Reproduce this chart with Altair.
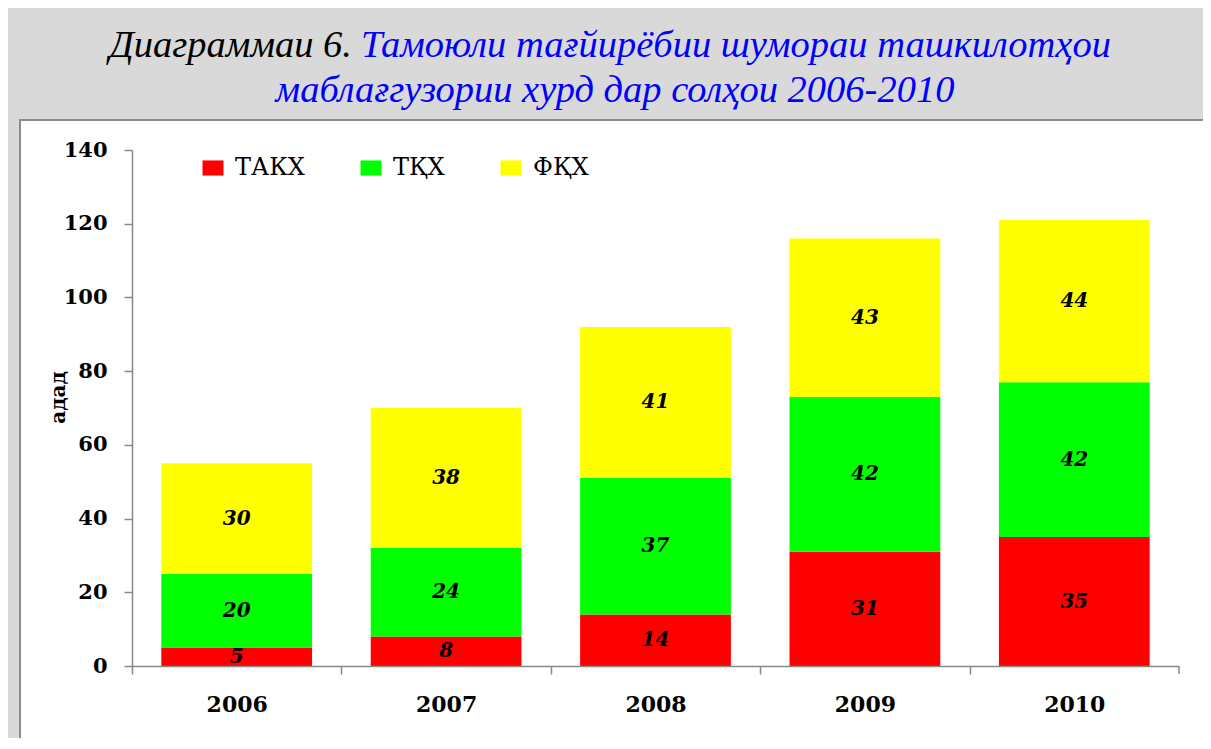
import altair as alt
import pandas as pd

years = ["2006", "2007", "2008", "2009", "2010"]
series = ["ТАКХ", "ТҚХ", "ФҚХ"]
takx = [5, 8, 14, 31, 35]
tqx = [20, 24, 37, 42, 42]
fqx = [30, 38, 41, 43, 44]
colors = ["#ff0000", "#00ff00", "#ffff00"]
y_ticks = [0, 20, 40, 60, 80, 100, 120, 140]
title_black = ["Диаграммаи 6."]
title_blue1 = ["Тамоюли тағйирёбии шумораи ташкилотҳои"]
title_blue2 = ["маблағгузории хурд дар солҳои 2006-2010"]
y_title = "адад"

rows = []
for i, y in enumerate(years):
    for j, (s, vals) in enumerate(zip(series, [takx, tqx, fqx])):
        rows.append({"year": y, "series": s, "value": vals[i], "ord": j})
df = pd.DataFrame(rows)

W, H = 1047, 516
SERIF = "DejaVu Serif"
AX = "#888888"
TFS = 38.5

base = alt.Chart(df).transform_stack(
    stack="value", groupby=["year"], as_=["y0", "y1"], sort=[{"field": "ord", "order": "ascending"}]
).transform_calculate(mid="(datum.y0 + datum.y1) / 2")

xenc = alt.X(
    "year:N",
    sort=years,
    title=None,
    scale=alt.Scale(paddingInner=0.28, paddingOuter=0.14),
    axis=alt.Axis(
        labelAngle=0,
        labelFont=SERIF,
        labelFontWeight="bold",
        labelFontSize=22,
        labelColor="black",
        labelPadding=20,
        tickSize=8,
        tickOffset=-W / 10,
        labelOffset=W / 10,
        tickColor=AX,
        tickWidth=1.5,
        domainColor=AX,
        domainWidth=1.5,
        grid=False,
        zindex=1,
    ),
)

bars = base.mark_bar().encode(
    x=xenc,
    y=alt.Y(
        "y0:Q",
        title=y_title,
        scale=alt.Scale(domain=[0, 140], nice=False),
        axis=alt.Axis(
            values=y_ticks,
            labelFont=SERIF,
            labelFontWeight="bold",
            labelFontSize=21,
            labelColor="black",
            labelPadding=17,
            tickSize=8,
            tickColor=AX,
            tickWidth=1.5,
            domainColor=AX,
            domainWidth=1.5,
            grid=False,
            zindex=1,
            titleFont=SERIF,
            titleFontWeight="bold",
            titleFontSize=20,
            titleColor="black",
            titleX=-68,
            titleY=247,
            titleBaseline="alphabetic",
            titleAlign="center",
        ),
    ),
    y2="y1:Q",
    color=alt.Color(
        "series:N",
        scale=alt.Scale(domain=series, range=colors),
        sort=series,
        title=None,
        legend=alt.Legend(
            orient="none",
            legendX=69,
            legendY=6,
            direction="horizontal",
            symbolType="M-1,-0.72H1V0.72H-1Z",
            symbolSize=441,
            symbolStrokeWidth=0,
            symbolOpacity=1,
            labelFont=SERIF,
            labelFontSize=24,
            labelColor="black",
            labelOffset=10,
            columnPadding=54,
            padding=0,
        ),
    ),
)

labels = base.mark_text(
    font=SERIF, fontSize=20, fontWeight="bold", fontStyle="italic", color="black", baseline="middle"
).encode(
    x=alt.X("year:N", sort=years),
    y=alt.Y("mid:Q"),
    text=alt.Text("value:Q"),
)

panel = alt.Chart(pd.DataFrame({"a": [0]})).mark_rect(
    fill="white", stroke="#8c8c8c", strokeWidth=2
).encode(
    x=alt.value(-112), x2=alt.value(1080), y=alt.value(-30), y2=alt.value(640)
)

t_black = alt.Chart(pd.DataFrame({"t": title_black})).mark_text(
    font="Liberation Serif", fontSize=TFS, fontStyle="italic", color="black", align="right", baseline="alphabetic"
).encode(text="t:N", x=alt.value(220), y=alt.value(-93))

t_blue1 = alt.Chart(pd.DataFrame({"t": title_blue1})).mark_text(
    font="Liberation Serif", fontSize=TFS, fontStyle="italic", color="#0000ff", align="left", baseline="alphabetic"
).encode(text="t:N", x=alt.value(229), y=alt.value(-93))

t_blue2 = alt.Chart(pd.DataFrame({"t": title_blue2})).mark_text(
    font="Liberation Serif", fontSize=TFS, fontStyle="italic", color="#0000ff", align="center", baseline="alphabetic"
).encode(text="t:N", x=alt.value(483), y=alt.value(-48))

end_tick = alt.Chart(pd.DataFrame({"a": [0]})).mark_rule(color=AX, strokeWidth=1.5).encode(
    x=alt.value(W), y=alt.value(H), y2=alt.value(H + 8)
)

chart = alt.layer(panel, bars, labels, end_tick, t_black, t_blue1, t_blue2).properties(
    width=W,
    height=H,
    background="#d9d9d9",
    padding={"left": 124, "top": 142, "right": 24, "bottom": 72},
    autosize=alt.AutoSizeParams(type="none"),
).configure_view(stroke=None)

chart.save("out.html", embed_options={"renderer": "svg", "actions": False})
